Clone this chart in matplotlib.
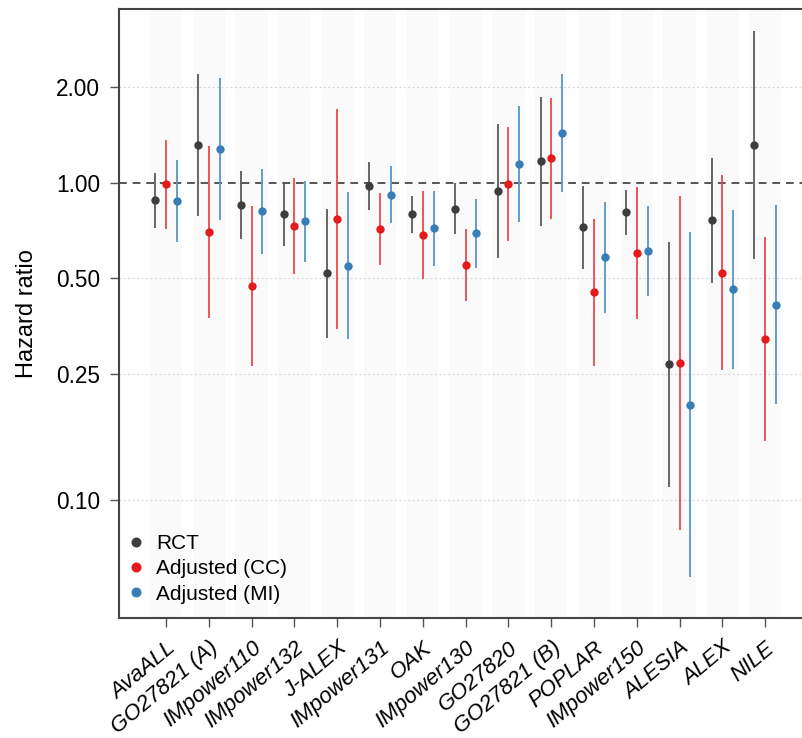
import numpy as np
import matplotlib
matplotlib.use('Agg')
import matplotlib.pyplot as plt
from matplotlib.ticker import FixedLocator, NullLocator

plt.rcParams['font.family'] = ['Liberation Sans', 'DejaVu Sans']

# DATA (hazard ratios with 95% CI)
trials = ['AvaALL', 'GO27821 (A)', 'IMpower110', 'IMpower132', 'J-ALEX', 'IMpower131',
          'OAK', 'IMpower130', 'GO27820', 'GO27821 (B)', 'POPLAR', 'IMpower150',
          'ALESIA', 'ALEX', 'NILE']

rct_hr = [0.880, 1.315, 0.849, 0.798, 0.518, 0.978, 0.795, 0.828, 0.942, 1.171, 0.723, 0.807, 0.268, 0.761, 1.315]
rct_lo = [0.718, 0.784, 0.663, 0.632, 0.325, 0.822, 0.694, 0.689, 0.578, 0.732, 0.534, 0.684, 0.110, 0.482, 0.574]
rct_hi = [1.075, 2.200, 1.086, 1.007, 0.824, 1.165, 0.910, 1.000, 1.531, 1.863, 0.978, 0.948, 0.649, 1.194, 3.008]

cc_hr = [0.991, 0.701, 0.473, 0.730, 0.767, 0.713, 0.684, 0.550, 0.993, 1.194, 0.451, 0.600, 0.271, 0.520, 0.321]
cc_lo = [0.715, 0.375, 0.265, 0.514, 0.345, 0.549, 0.496, 0.425, 0.656, 0.767, 0.265, 0.371, 0.0804, 0.256, 0.153]
cc_hi = [1.366, 1.308, 0.846, 1.037, 1.704, 0.926, 0.944, 0.713, 1.498, 1.854, 0.767, 0.967, 0.910, 1.055, 0.673]

mi_hr = [0.874, 1.280, 0.812, 0.756, 0.547, 0.917, 0.718, 0.693, 1.145, 1.431, 0.582, 0.610, 0.199, 0.461, 0.413]
mi_lo = [0.649, 0.764, 0.596, 0.564, 0.322, 0.745, 0.546, 0.537, 0.752, 0.933, 0.388, 0.440, 0.0570, 0.259, 0.200]
mi_hi = [1.177, 2.134, 1.105, 1.012, 0.933, 1.129, 0.944, 0.888, 1.741, 2.197, 0.871, 0.846, 0.698, 0.822, 0.851]

y_ticks = [0.10, 0.25, 0.50, 1.00, 2.00]

series = [
    ('RCT', rct_hr, rct_lo, rct_hi, '#3d3d3d', '#5a5a5a', -0.25),
    ('Adjusted (CC)', cc_hr, cc_lo, cc_hi, '#e41a1c', '#ea4a4c', 0.0),
    ('Adjusted (MI)', mi_hr, mi_lo, mi_hi, '#377eb8', '#5a95c6', 0.25),
]

fig = plt.figure(figsize=(8.02, 7.38), dpi=100)
ax = fig.add_axes([119 / 802, 1 - 618 / 738, 1 - 119 / 802, (618 - 9) / 738])

x = np.arange(len(trials))

# background bands
for i in x:
    ax.axvspan(i - 0.38, i + 0.38, color='#fafafa', lw=0, zorder=0)

ax.set_yscale('log')
for t in y_ticks:
    if t != 1.0:
        ax.axhline(t, color='#d0d0d0', lw=0.8, ls=(0, (1.5, 2.5)), zorder=1)
ax.axhline(1.0, color='#555555', lw=1.4, ls=(0, (4, 3)), zorder=1)

for name, hr, lo, hi, mcol, lcol, off in series:
    xs = x + off
    ax.vlines(xs, lo, hi, colors=lcol, lw=1.3, zorder=2)
    ax.plot(xs, hr, 'o', color=mcol, ms=6, mew=0, zorder=3, label=name)

ax.set_xlim(-1.10, 14.86)
ax.set_ylim(0.0424, 3.53)

ax.yaxis.set_major_locator(FixedLocator(y_ticks))
ax.yaxis.set_minor_locator(NullLocator())
ax.set_yticklabels(['%.2f' % t for t in y_ticks])
ax.set_xticks(x)
ax.set_xticklabels(trials, rotation=40, ha='right', va='top',
                   rotation_mode='anchor', style='italic')

ax.tick_params(axis='both', labelsize=16.3, colors='#555555', labelcolor='black',
               length=6.5, width=1.0, direction='out')
ax.tick_params(axis='x', labelsize=16, pad=7.5)
ax.tick_params(axis='y', pad=7)

for s in ['left', 'bottom', 'top']:
    ax.spines[s].set_color('#444444')
    ax.spines[s].set_linewidth(1.5)
ax.spines['right'].set_visible(False)

ax.set_ylabel('Hazard ratio', fontsize=17, labelpad=13)

ax.legend(loc='lower left', bbox_to_anchor=(0.0, 0.01), frameon=False, fontsize=15,
          handletextpad=0.6, labelspacing=0.3, borderaxespad=0.0, handlelength=0.8,
          markerscale=1.2)

fig.savefig('out.png', dpi=100)
